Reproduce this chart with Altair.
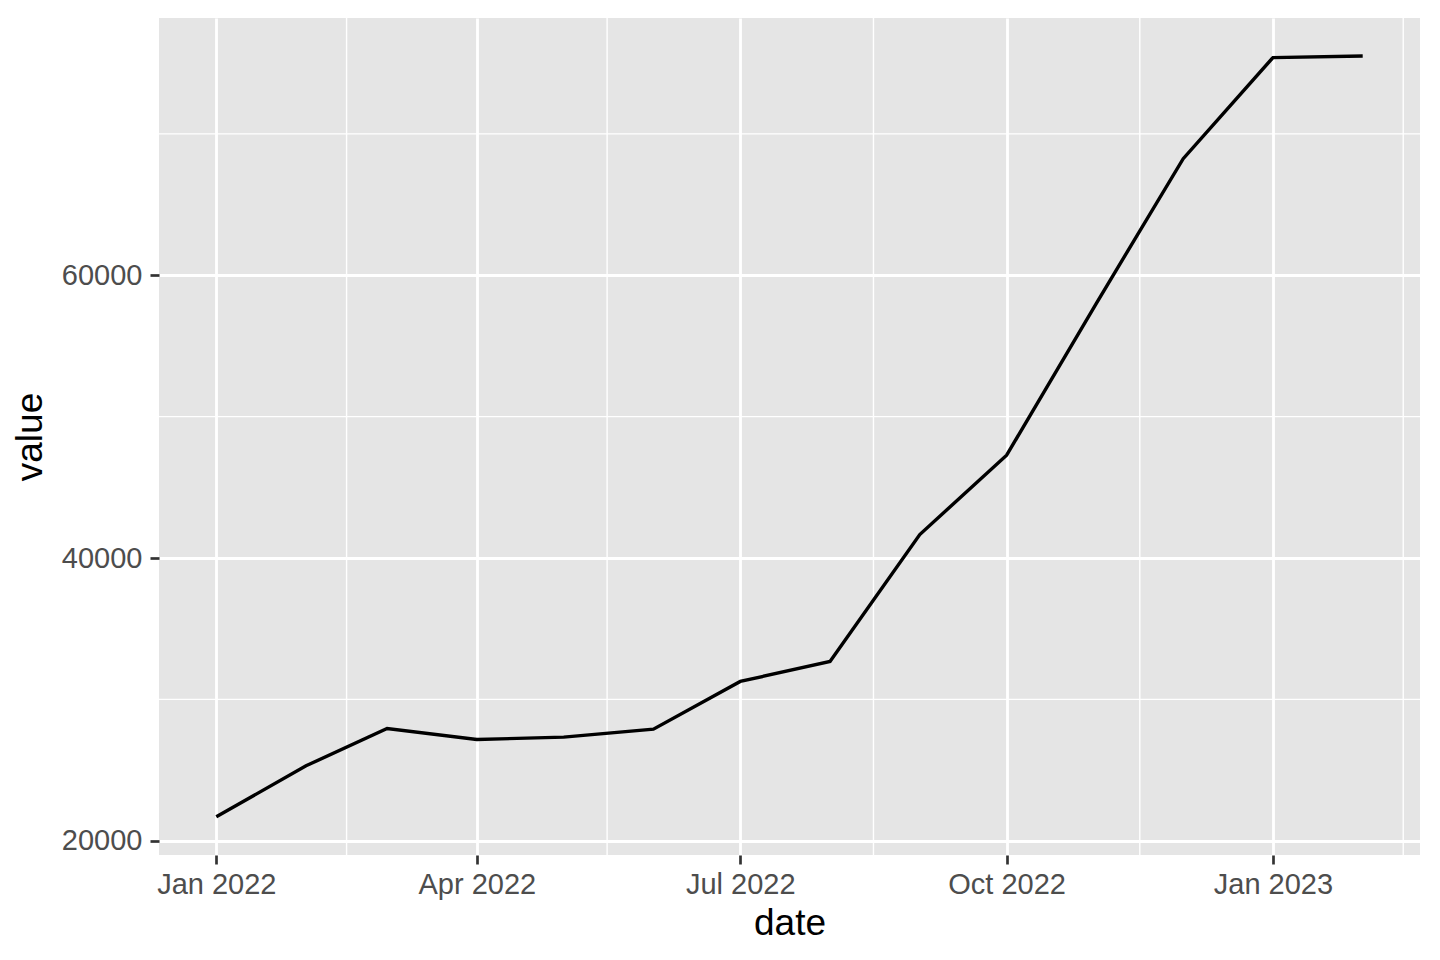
import altair as alt
import pandas as pd

dates = ["2022-01-01", "2022-02-01", "2022-03-01", "2022-04-01", "2022-05-01",
         "2022-06-01", "2022-07-01", "2022-08-01", "2022-09-01", "2022-10-01",
         "2022-11-01", "2022-12-01", "2023-01-01", "2023-02-01"]
values = [21690, 25300, 27940, 27160, 27330, 27890, 31270, 32680, 41660, 47270,
          58020, 68250, 75400, 75510]

x_major = ["2022-01-01", "2022-04-01", "2022-07-01", "2022-10-01", "2023-01-01"]
x_minor = ["2022-02-15", "2022-05-16", "2022-08-16", "2022-11-16", "2023-02-15"]
y_major = [20000, 40000, 60000]
y_minor = [30000, 50000, 70000]

df = pd.DataFrame({"date": dates, "value": values})
df_xminor = pd.DataFrame({"date": x_minor})
df_yminor = pd.DataFrame({"value": y_minor})

FONT = "Liberation Sans"

xscale = alt.Scale(
    type="utc",
    nice=False,
    domain=[
        alt.DateTime(year=2021, month=12, date=12, hours=5, utc=True),
        alt.DateTime(year=2023, month=2, date=20, hours=19, utc=True),
    ],
)
yscale = alt.Scale(domain=[18990, 78200], nice=False, zero=False)

x_values = [alt.DateTime(year=int(d[:4]), month=int(d[5:7]), date=int(d[8:]), utc=True) for d in x_major]

xaxis = alt.Axis(
    values=x_values,
    labelExpr="utcFormat(datum.value, '%b %Y')",
    title="date",
    labelPadding=6,
    titlePadding=6,
)
yaxis = alt.Axis(
    values=y_major,
    format="d",
    title="value",
    labelPadding=8,
    titlePadding=12,
)

minor_x = alt.Chart(df_xminor).mark_rule(color="white", strokeWidth=1.4).encode(
    x=alt.X("date:T", scale=xscale, axis=xaxis)
)
minor_y = alt.Chart(df_yminor).mark_rule(color="white", strokeWidth=1.4).encode(
    y=alt.Y("value:Q", scale=yscale, axis=yaxis)
)
line = alt.Chart(df).mark_line(color="black", strokeWidth=3.4).encode(
    x=alt.X("date:T", scale=xscale, axis=xaxis),
    y=alt.Y("value:Q", scale=yscale, axis=yaxis),
)

chart = (
    alt.layer(minor_x, minor_y, line)
    .properties(
        width=1261,
        height=837,
        autosize=alt.AutoSizeParams(type="none"),
        padding={"left": 151, "top": 10, "right": 12, "bottom": 97},
    )
    .configure_view(fill="#E5E5E5", stroke=None)
    .configure_axis(
        grid=True,
        gridColor="white",
        gridWidth=2.8,
        domain=False,
        tickColor="#333333",
        tickSize=9,
        tickWidth=2.7,
        labelFont=FONT,
        labelFontSize=29,
        labelColor="#4D4D4D",
        titleFont=FONT,
        titleFontSize=37,
        titleFontWeight="normal",
        titleColor="black",
    )
)

chart.save("out.html", embed_options={"renderer": "svg", "actions": False})
